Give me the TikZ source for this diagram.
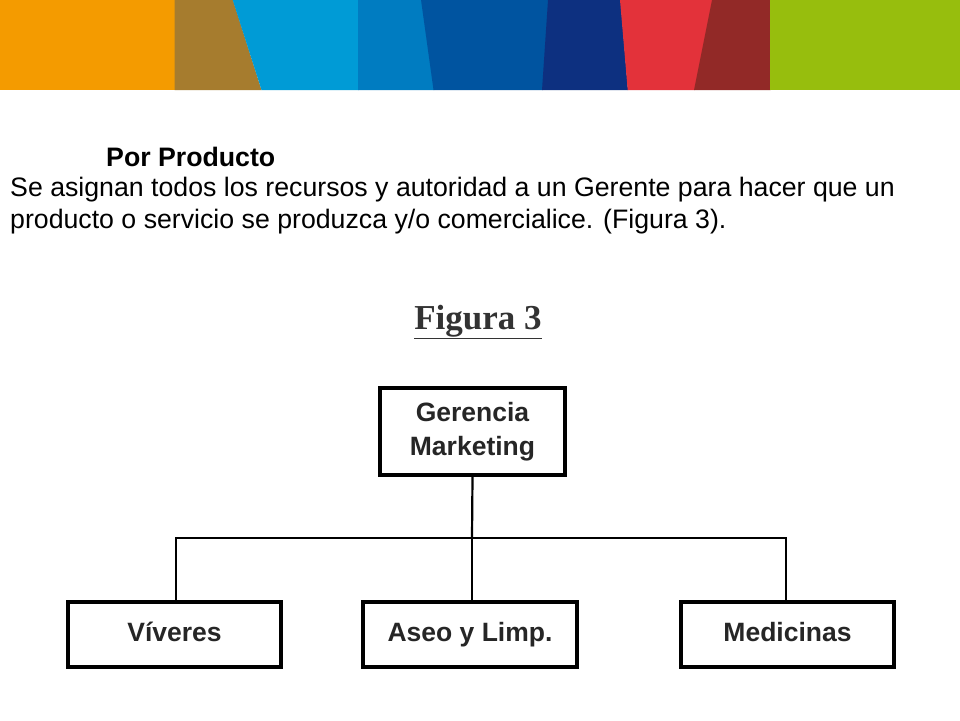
\documentclass[tikz,border=0pt]{standalone}
\usepackage{fontspec}
\setmainfont{Liberation Sans}
\newfontfamily\serifb{Liberation Serif}
\begin{document}
\begin{tikzpicture}[x=1pt,y=-1pt,
  bx/.style={draw=black,line width=3.5pt,minimum height=65pt,font=\fontsize{26.5}{30}\selectfont\bfseries,text=black!85,align=center},
  ln/.style={line width=2.2pt}]
\useasboundingbox (0,0) rectangle (960,720);
\fill[white] (0,0) rectangle (960,720);
\fill[fill={rgb,255:red,244;green,155;blue,0}] (0,0) rectangle (175,90);
\fill[fill={rgb,255:red,166;green,124;blue,46}] (174.5,0) -- (233,0) -- (261.5,90) -- (174.5,90) -- cycle;
\fill[fill={rgb,255:red,0;green,155;blue,214}] (232.7,0) -- (358.5,0) -- (358.5,90) -- (261.5,90) -- cycle;
\fill[fill={rgb,255:red,0;green,124;blue,193}] (358,0) -- (421.5,0) -- (434,90) -- (358,90) -- cycle;
\fill[fill={rgb,255:red,0;green,84;blue,160}] (421,0) -- (548.5,0) -- (542.5,90) -- (433.5,90) -- cycle;
\fill[fill={rgb,255:red,13;green,48;blue,128}] (548,0) -- (620.5,0) -- (628,90) -- (542,90) -- cycle;
\fill[fill={rgb,255:red,227;green,50;blue,58}] (620,0) -- (712.5,0) -- (694.5,90) -- (627.7,90) -- cycle;
\fill[fill={rgb,255:red,146;green,41;blue,39}] (712,0) -- (770.5,0) -- (770.5,90) -- (694,90) -- cycle;
\fill[fill={rgb,255:red,151;green,190;blue,13}] (770,0) rectangle (960,90);
\node[anchor=base west,font=\fontsize{26.7}{30}\selectfont\bfseries,inner sep=0] (h) at (106,166) {Por Producto};
\node[anchor=base west,font=\fontsize{26.7}{30}\selectfont,inner sep=0] (l1) at (10,196) {Se asignan todos los recursos y autoridad a un Gerente para hacer que un};
\node[anchor=base west,font=\fontsize{26.7}{30}\selectfont,inner sep=0] (l2) at (10,228) {producto o servicio se produzca y/o comercialice. (Figura 3).};
\node[font=\fontsize{35}{38}\selectfont\serifb\bfseries,text=black!80] (fig) at (478,322) {\underline{Figura 3}};
\node[bx,minimum width=185pt,minimum height=87pt] (g) at (472.5,431.5) {Gerencia\\[4pt]Marketing};
\node[bx,minimum width=213pt,text height=19pt,text depth=6pt] (v) at (174.5,634.5) {Víveres};
\node[bx,minimum width=214pt,text height=19pt,text depth=6pt] (a) at (470,634.5) {Aseo y Limp.};
\node[bx,minimum width=213pt,text height=19pt,text depth=6pt] (m) at (787.5,634.5) {Medicinas};
\coordinate (j) at (472,538);
\draw[ln] (g.south) -- (j);
\draw[ln] (v.north -| 176,0) |- (j) -| (m.north -| 786,0);
\draw[ln] (j) -- (a.north -| j);
\end{tikzpicture}
\end{document}
